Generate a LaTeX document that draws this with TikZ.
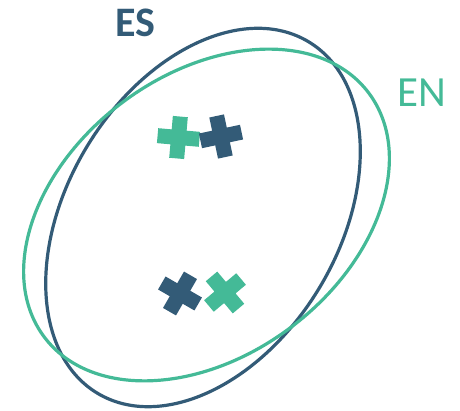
\documentclass[tikz,border=0pt]{standalone}
\usepackage{fontspec}
\setmainfont{Carlito}
\usepackage{tikz}
\usetikzlibrary{calc}

\begin{document}
\begin{tikzpicture}[x=1pt, y=1pt]

    % Colores de los dos conjuntos
    \definecolor{EScolor}{RGB}{51,91,119}  % Azul oscuro
    \definecolor{ENcolor}{RGB}{68,186,151} % Verde

    \useasboundingbox (0,0) rectangle (460,411);

    % --- 1. LAS ELIPSES ---
    \draw[EScolor, line width=3.2pt, rotate around={59:(203,193.5)}] (203,193.5) ellipse (205 and 136);
    \draw[ENcolor, line width=3.2pt, rotate around={37:(206.5,196)}] (206.5,196) ellipse (203 and 140.5);

    % --- 2. LAS CRUCES ---
    \foreach \x/\y/\r/\c in {178.5/273.5/-5/ENcolor, 221/274.5/12/EScolor,
                             180/117.5/-30/EScolor, 225/118.5/40/ENcolor} {
        \fill[\c, shift={(\x,\y)}, rotate=\r]
            (-7.5,21) -- (7.5,21) -- (7.5,7.5) -- (21,7.5) -- (21,-7.5) -- (7.5,-7.5)
            -- (7.5,-21) -- (-7.5,-21) -- (-7.5,-7.5) -- (-21,-7.5) -- (-21,7.5) -- (-7.5,7.5) -- cycle;
    }

    % --- 3. ETIQUETAS ---
    \node[EScolor, anchor=base, font=\fontsize{42}{42}\selectfont\bfseries, inner sep=0] (ES) at (135,374) {ES};
    \node[ENcolor, anchor=base, font=\fontsize{43}{43}\selectfont, inner sep=0] (EN) at (421.5,304) {EN};

\end{tikzpicture}
\end{document}
